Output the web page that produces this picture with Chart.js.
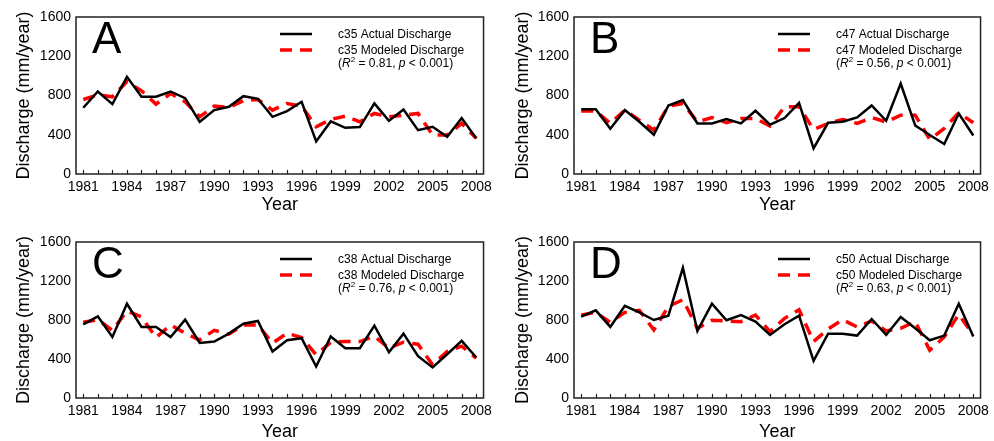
<!DOCTYPE html>
<html>
<head>
<meta charset="utf-8">
<script src="https://cdn.jsdelivr.net/npm/chart.js@4.4.1/dist/chart.umd.min.js"></script>
<style>
html, body { margin: 0; padding: 0; background: #fff; }
body { width: 994px; height: 441px; position: relative; overflow: hidden; }
.panel { position: absolute; }
</style>
</head>
<body>
<div class="panel" style="left:0;top:0;width:497px;height:220px"><canvas id="chartA"></canvas></div>
<div class="panel" style="left:497px;top:0;width:497px;height:220px"><canvas id="chartB"></canvas></div>
<div class="panel" style="left:0;top:220px;width:497px;height:221px"><canvas id="chartC"></canvas></div>
<div class="panel" style="left:497px;top:220px;width:497px;height:221px"><canvas id="chartD"></canvas></div>
<script>
const years = [1981, 1982, 1983, 1984, 1985, 1986, 1987, 1988, 1989, 1990, 1991, 1992, 1993, 1994,
               1995, 1996, 1997, 1998, 1999, 2000, 2001, 2002, 2003, 2004, 2005, 2006, 2007, 2008];
const yTicks = [0, 400, 800, 1200, 1600];

const c35Actual  = [675, 841, 712, 990, 787, 787, 841, 773, 532, 651, 685, 793, 766, 583, 641, 736, 332, 536, 471, 478, 719, 542, 658, 447, 481, 380, 570, 363];
const c35Modeled = [759, 807, 787, 942, 848, 712, 820, 736, 583, 692, 678, 746, 759, 651, 719, 692, 481, 556, 590, 532, 617, 583, 600, 617, 397, 397, 515, 363];

const c47Actual  = [661, 661, 461, 651, 532, 400, 698, 753, 515, 515, 559, 515, 644, 502, 570, 725, 261, 522, 532, 576, 698, 542, 922, 495, 397, 305, 617, 393];
const c47Modeled = [641, 641, 515, 651, 549, 447, 692, 719, 532, 576, 522, 566, 566, 488, 685, 685, 454, 515, 556, 515, 576, 529, 600, 600, 353, 464, 624, 522];

const c38Actual  = [756, 837, 626, 967, 728, 728, 626, 803, 565, 579, 660, 762, 790, 477, 592, 613, 323, 630, 511, 511, 742, 470, 660, 429, 313, 449, 586, 415];
const c38Modeled = [776, 803, 694, 892, 831, 620, 749, 664, 596, 694, 654, 749, 749, 562, 664, 620, 443, 572, 579, 579, 633, 511, 572, 552, 340, 477, 531, 409];

const c50Actual  = [834, 899, 729, 946, 878, 800, 844, 1334, 688, 967, 797, 851, 783, 647, 756, 844, 381, 660, 660, 640, 810, 647, 831, 715, 592, 640, 967, 630];
const c50Modeled = [851, 878, 776, 878, 899, 698, 939, 1008, 715, 797, 790, 783, 851, 681, 817, 905, 579, 708, 803, 729, 790, 688, 715, 783, 490, 626, 858, 647];

const FONT = '"Liberation Sans", Arial, Helvetica, sans-serif';

// box round the plot, inward year ticks, panel letter and legend
const panelDecor = {
    id: "panelDecor",
    afterDatasetsDraw(chart, args, opts) {
        const { ctx, chartArea: a, scales: { x } } = chart;
        ctx.save();
        ctx.strokeStyle = "#222";
        ctx.lineWidth = 1.5;
        ctx.strokeRect(a.left, a.top, a.right - a.left, a.bottom - a.top);
        ctx.beginPath();
        x.ticks.forEach((t, i) => {
            const px = Math.round(x.getPixelForTick(i)) + 0.5;
            ctx.moveTo(px, a.bottom);
            ctx.lineTo(px, a.bottom - 4);
        });
        ctx.lineWidth = 1.2;
        ctx.stroke();

        ctx.fillStyle = "#000";
        ctx.font = "44px " + FONT;
        ctx.textBaseline = "alphabetic";
        ctx.textAlign = "left";
        ctx.fillText(opts.letter, a.left + 16, a.top + 36);

        // legend
        const ds = chart.data.datasets;
        const rows = [a.top + 17, a.top + 33];
        ds.forEach((d, i) => {
            ctx.beginPath();
            ctx.strokeStyle = d.borderColor;
            ctx.lineWidth = d.borderWidth;
            ctx.setLineDash(d.borderDash || []);
            ctx.moveTo(a.left + 204, rows[i]);
            ctx.lineTo(a.left + 236, rows[i]);
            ctx.stroke();
            ctx.setLineDash([]);
        });
        ctx.fillStyle = "#000";
        ctx.textBaseline = "middle";
        ctx.font = "12px " + FONT;
        const tx = a.left + 262;
        ctx.fillText(ds[0].label, tx, a.top + 18);
        ctx.fillText(ds[1].label, tx, a.top + 34);

        let cx = tx;
        const ty = a.top + 47;
        const parts = [
            ["(", "12px " + FONT, 0],
            ["R", "italic 12px " + FONT, 0],
            ["2", "8px " + FONT, -4],
            [" = " + opts.r2 + ", ", "12px " + FONT, 0],
            ["p", "italic 12px " + FONT, 0],
            [" < 0.001)", "12px " + FONT, 0]
        ];
        parts.forEach(([s, f, dy]) => {
            ctx.font = f;
            ctx.fillText(s, cx, ty + dy);
            cx += ctx.measureText(s).width;
        });
        ctx.restore();
    }
};

const panels = [
    { id: "chartA", letter: "A", site: "c35", actual: c35Actual, modeled: c35Modeled, r2: "0.81",
      axisW: 76, pad: { top: 17, right: 9 }, axisH: 46, yTitlePad: 13, xTitlePad: 4 },
    { id: "chartB", letter: "B", site: "c47", actual: c47Actual, modeled: c47Modeled, r2: "0.56",
      axisW: 77, pad: { top: 17, right: 8 }, axisH: 46, yTitlePad: 15, xTitlePad: 4 },
    { id: "chartC", letter: "C", site: "c38", actual: c38Actual, modeled: c38Modeled, r2: "0.76",
      axisW: 76, pad: { top: 22, right: 9 }, axisH: 43, yTitlePad: 13, xTitlePad: -2 },
    { id: "chartD", letter: "D", site: "c50", actual: c50Actual, modeled: c50Modeled, r2: "0.63",
      axisW: 77, pad: { top: 22, right: 8 }, axisH: 43, yTitlePad: 15, xTitlePad: -2 }
];

panels.forEach(p => {
    new Chart(document.getElementById(p.id), {
        type: "line",
        data: {
            labels: years,
            datasets: [
                { label: p.site + " Actual Discharge", data: p.actual, borderColor: "#000",
                  borderWidth: 2.5, pointRadius: 0, tension: 0, fill: false },
                { label: p.site + " Modeled Discharge", data: p.modeled, borderColor: "#ff0000",
                  borderWidth: 3.5, borderDash: [12, 8], pointRadius: 0, tension: 0, fill: false }
            ]
        },
        options: {
            responsive: true,
            maintainAspectRatio: false,
            animation: false,
            layout: { padding: { left: 0, top: p.pad.top, right: p.pad.right, bottom: 0 } },
            plugins: {
                legend: { display: false },
                tooltip: { enabled: false },
                panelDecor: { letter: p.letter, r2: p.r2 }
            },
            scales: {
                x: {
                    type: "category",
                    offset: true,
                    grid: { display: false, drawTicks: false },
                    border: { display: false },
                    ticks: {
                        autoSkip: false, maxRotation: 0, padding: 5, color: "#000",
                        font: { family: FONT, size: 14 },
                        callback: (v, i) => ((years[i] - 1981) % 3 === 0 ? String(years[i]) : "")
                    },
                    title: { display: true, text: "Year", color: "#000",
                             font: { family: FONT, size: 18 }, padding: { top: 0, bottom: p.xTitlePad } },
                    afterFit: s => { s.height = p.axisH; }
                },
                y: {
                    min: yTicks[0],
                    max: yTicks[yTicks.length - 1],
                    afterBuildTicks: s => { s.ticks = yTicks.map(v => ({ value: v })); },
                    grid: { display: false, drawTicks: false },
                    border: { display: false },
                    ticks: { padding: 5, color: "#000", font: { family: FONT, size: 14 },
                             callback: v => String(v) },
                    title: { display: true, text: "Discharge (mm/year)", color: "#000",
                             font: { family: FONT, size: 18 }, padding: { top: p.yTitlePad, bottom: 0 } },
                    afterFit: s => { s.width = p.axisW; }
                }
            }
        },
        plugins: [panelDecor]
    });
});
</script>
</body>
</html>
